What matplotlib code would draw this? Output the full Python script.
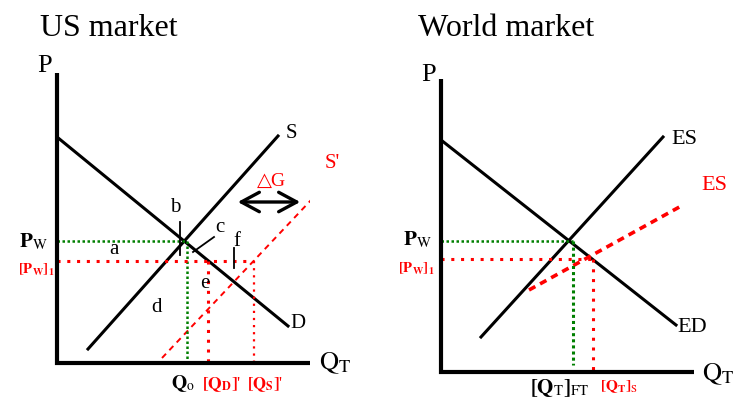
import matplotlib
matplotlib.use("Agg")
import matplotlib.pyplot as plt
from matplotlib.patches import FancyArrowPatch

plt.rcParams['font.family'] = ['Liberation Serif', 'DejaVu Sans']
plt.rcParams['mathtext.fontset'] = 'stix'

# US market (quantity, price)
us_D_q = [0, 231]
us_D_p = [226, 37]
us_S_q = [31, 221]
us_S_p = [14, 227]
us_S2_q = [105, 273]
us_S2_p = [5, 183]
us_pw, us_pw1 = 122, 102
us_q0, us_qd1, us_qs1 = 130, 151, 197
us_qmax, us_pmax = 253, 290

# World market (quantity, price)
w_ED_q = [0, 235]
w_ED_p = [232, 47]
w_ES_q = [40, 222]
w_ES_p = [35, 235]
w_ES2_q = [88, 242]
w_ES2_p = [82, 167]
w_pw, w_pw1 = 131, 113
w_qft, w_qs = 132, 152
w_qmax, w_pmax = 253, 293

RED = '#ff0000'
GREEN = '#007f00'
W, H = 733, 401

fig = plt.figure(figsize=(7.33, 4.01), dpi=100)
ax1 = fig.add_axes([57 / W, 38 / H, 253 / W, 290 / H])
ax2 = fig.add_axes([441 / W, 29 / H, 253 / W, 293 / H])

for ax, qmax, pmax in [(ax1, us_qmax, us_pmax), (ax2, w_qmax, w_pmax)]:
    ax.set_xlim(0, qmax)
    ax.set_ylim(0, pmax)
    ax.axis('off')
    ax.plot([0, 0, qmax], [pmax, 0, 0], color='black', lw=3,
            solid_joinstyle='miter', solid_capstyle='butt', clip_on=False, zorder=5)

dot = (0, (1, 2.2))

# ---- US market ----
ax1.plot(us_D_q, us_D_p, color='black', lw=2.2)
ax1.plot(us_S_q, us_S_p, color='black', lw=2.2)
ax1.plot(us_S2_q, us_S2_p, color=RED, lw=1.4, ls=(0, (3, 2.5)))
ax1.plot([0, us_q0], [us_pw, us_pw], color=GREEN, lw=1.8, ls=(0, (1, 1)))
ax1.plot([us_q0, us_q0], [us_pw, 0], color=GREEN, lw=1.8, ls=(0, (1, 1)))
ax1.plot([0, us_qs1], [us_pw1, us_pw1], color=RED, lw=2.2, ls=dot)
ax1.plot([us_qd1, us_qd1], [us_pw1, 0], color=RED, lw=2.2, ls=dot)
ax1.plot([us_qs1, us_qs1], [us_pw1, 0], color=RED, lw=1.6, ls=dot)

# small pointer marks
ax1.plot([123, 123], [141, 108], color='black', lw=1.3)
ax1.plot([136, 157], [111, 126], color='black', lw=1.3)
ax1.plot([177, 177], [115, 95], color='black', lw=1.3)

ax1.add_patch(FancyArrowPatch((178, 161), (246, 161), arrowstyle='<->,head_length=13,head_width=7',
                              color='black', lw=2.4, mutation_scale=1, clip_on=False))

kw = dict(clip_on=False, ha='center', va='center')
ax1.text(-12, 297, 'P', fontsize=19, **kw)
ax1.text(234, 230, 'S', fontsize=15, **kw)
ax1.text(275, 199, "S'", fontsize=15, color=RED, **kw)
ax1.text(215, 182, '△G', fontsize=14, color=RED, **kw)
ax1.text(241, 40, 'D', fontsize=15, **kw)
ax1.text(57, 113, 'a', fontsize=15, **kw)
ax1.text(118, 156, 'b', fontsize=15, **kw)
ax1.text(163, 136, 'c', fontsize=15, **kw)
ax1.text(100, 56, 'd', fontsize=15, **kw)
ax1.text(148, 80, 'e', fontsize=15, **kw)
ax1.text(180, 121, 'f', fontsize=15, **kw)
ax1.text(262, -6, r'$\mathrm{Q}_{\mathrm{T}}$', fontsize=19, clip_on=False, ha='left', va='baseline')
ax1.text(-9, 116, r'$\mathbf{P}_{\mathrm{W}}$', fontsize=15, clip_on=False, ha='right', va='baseline')
ax1.text(-2, 89, r'$\mathbf{[P}_{\mathbf{W}}\mathbf{]}_{\mathbf{1}}$', fontsize=10.5, color=RED,
         clip_on=False, ha='right', va='baseline')
ax1.text(126, -25, r'$\mathbf{Q}_{\mathrm{o}}$', fontsize=14, clip_on=False, ha='center', va='baseline')
ax1.text(165, -25, r"$\mathbf{[Q}_{\mathbf{D}}\mathbf{]}$'", fontsize=12.5, color=RED,
         clip_on=False, ha='center', va='baseline')
ax1.text(208, -25, r"$\mathbf{[Q}_{\mathbf{S}}\mathbf{]}$'", fontsize=12, color=RED,
         clip_on=False, ha='center', va='baseline')

# ---- World market ----
ax2.plot(w_ED_q, w_ED_p, color='black', lw=2.2)
ax2.plot(w_ES_q, w_ES_p, color='black', lw=2.2)
ax2.plot(w_ES2_q, w_ES2_p, color=RED, lw=2.6, ls=(0, (2, 1.5)))
ax2.plot([0, w_qft], [w_pw, w_pw], color=GREEN, lw=1.8, ls=(0, (1, 1)))
ax2.plot([w_qft, w_qft], [w_pw, 7], color=GREEN, lw=2.2, ls=(0, (1, 1)))
ax2.plot([0, w_qs], [w_pw1, w_pw1], color=RED, lw=2.2, ls=dot)
ax2.plot([w_qs, w_qs], [w_pw1, 0], color=RED, lw=2.2, ls=dot)

ax2.text(-12, 297, 'P', fontsize=19, **kw)
ax2.text(243, 233, 'ES', fontsize=16, **kw)
ax2.text(273, 186, 'ES', fontsize=16, color=RED, **kw)
ax2.text(251, 44, 'ED', fontsize=16, **kw)
ax2.text(261, -8, r'$\mathrm{Q}_{\mathrm{T}}$', fontsize=19, clip_on=False, ha='left', va='baseline')
ax2.text(-9, 127, r'$\mathbf{P}_{\mathrm{W}}$', fontsize=15, clip_on=False, ha='right', va='baseline')
ax2.text(-6, 99, r'$\mathbf{[P}_{\mathbf{W}}\mathbf{]}_{\mathbf{1}}$', fontsize=10.5, color=RED,
         clip_on=False, ha='right', va='baseline')
ax2.text(119, -21, r'$\mathbf{[Q}_{\mathrm{T}}\mathbf{]}_{\mathrm{FT}}$', fontsize=15,
         clip_on=False, ha='center', va='baseline')
ax2.text(178, -18, r'$\mathbf{[Q}_{\mathbf{T}}\mathbf{]}_{\mathrm{S}}$', fontsize=11, color=RED,
         clip_on=False, ha='center', va='baseline')

fig.text(40 / W, 1 - 28 / H, 'US market', fontsize=23, ha='left', va='center')
fig.text(418 / W, 1 - 28 / H, 'World market', fontsize=23, ha='left', va='center')

fig.savefig('out.png', dpi=100)
